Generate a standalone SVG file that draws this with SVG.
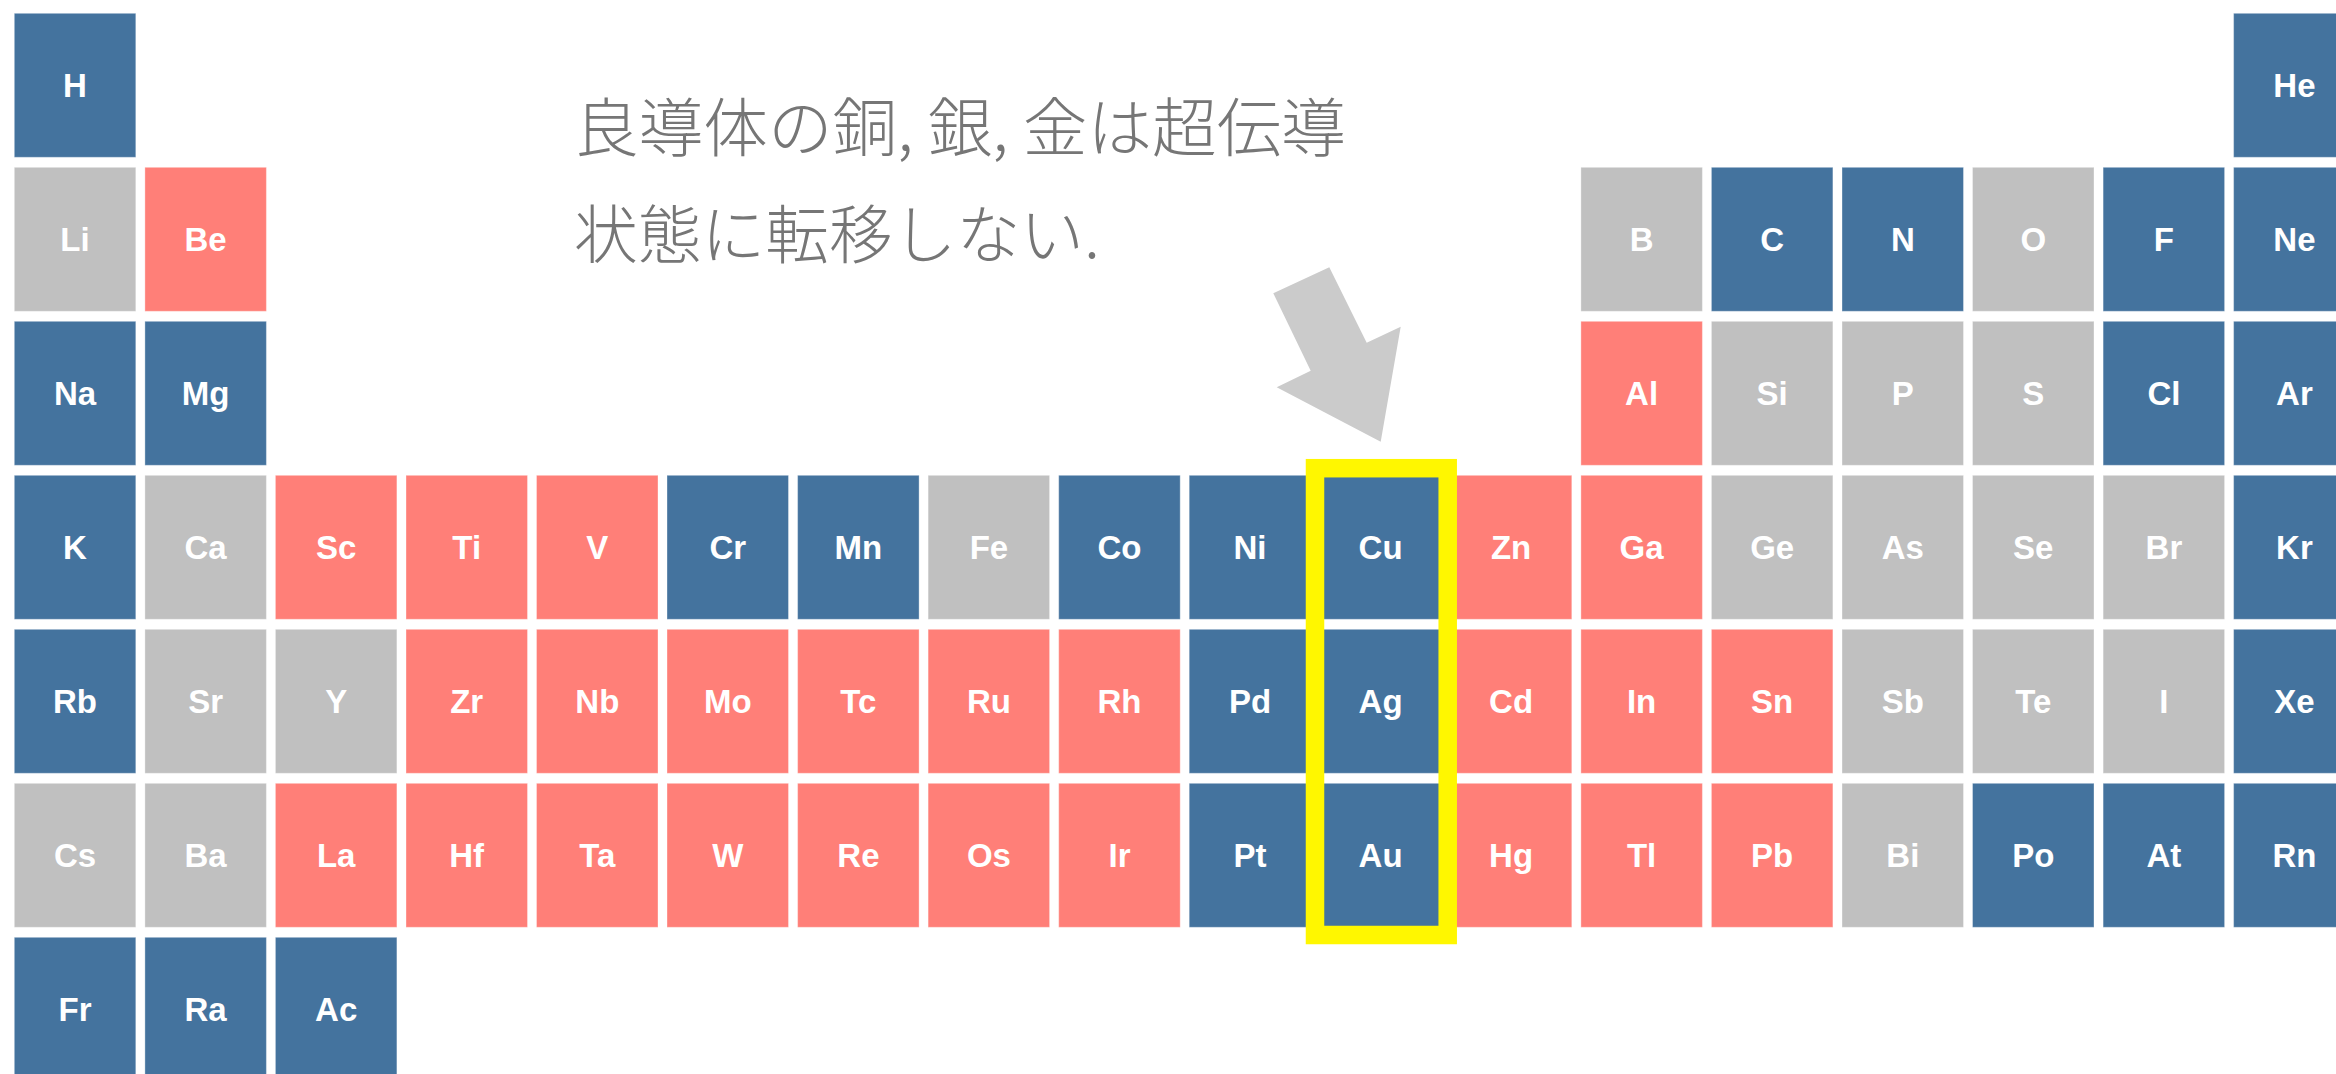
<svg xmlns="http://www.w3.org/2000/svg" width="2336" height="1074" viewBox="0 0 2336 1074">
<style>
rect.c{width:121.5px;height:144px;stroke:#ffffff;stroke-opacity:0.35;stroke-width:1}
.b{fill:#44739e}
.r{fill:#ff7f78}
.g{fill:#c0c0c0}
text.s{font-family:"Liberation Sans",Arial,sans-serif;font-weight:bold;font-size:33px;fill:#ffffff;text-anchor:middle}
text.j{font-family:"Noto Sans CJK JP","Noto Sans CJK SC",sans-serif;font-weight:300;font-size:64px;fill:#767676}
</style>
<rect width="2336" height="1074" fill="#ffffff"/>
<g id="nodes">
<g id="H"><rect class="c b" x="14.3" y="13.3" width="121.5" height="144"/><text class="s" x="75" y="96.8">H</text></g>
<g id="He"><rect class="c b" x="2233.6" y="13.3" width="121.5" height="144"/><text class="s" x="2294.4" y="96.8">He</text></g>

<g id="Li"><rect class="c g" x="14.3" y="167.3" width="121.5" height="144"/><text class="s" x="75" y="250.8">Li</text></g>
<g id="Be"><rect class="c r" x="144.9" y="167.3" width="121.5" height="144"/><text class="s" x="205.6" y="250.8">Be</text></g>
<g id="B"><rect class="c g" x="1580.9" y="167.3" width="121.5" height="144"/><text class="s" x="1641.6" y="250.8">B</text></g>
<g id="C"><rect class="c b" x="1711.4" y="167.3" width="121.5" height="144"/><text class="s" x="1772.2" y="250.8">C</text></g>
<g id="N"><rect class="c b" x="1842" y="167.3" width="121.5" height="144"/><text class="s" x="1902.8" y="250.8">N</text></g>
<g id="O"><rect class="c g" x="1972.5" y="167.3" width="121.5" height="144"/><text class="s" x="2033.3" y="250.8">O</text></g>
<g id="F"><rect class="c b" x="2103.1" y="167.3" width="121.5" height="144"/><text class="s" x="2163.9" y="250.8">F</text></g>
<g id="Ne"><rect class="c b" x="2233.6" y="167.3" width="121.5" height="144"/><text class="s" x="2294.4" y="250.8">Ne</text></g>

<g id="Na"><rect class="c b" x="14.3" y="321.3" width="121.5" height="144"/><text class="s" x="75" y="404.8">Na</text></g>
<g id="Mg"><rect class="c b" x="144.9" y="321.3" width="121.5" height="144"/><text class="s" x="205.6" y="404.8">Mg</text></g>
<g id="Al"><rect class="c r" x="1580.9" y="321.3" width="121.5" height="144"/><text class="s" x="1641.6" y="404.8">Al</text></g>
<g id="Si"><rect class="c g" x="1711.4" y="321.3" width="121.5" height="144"/><text class="s" x="1772.2" y="404.8">Si</text></g>
<g id="P"><rect class="c g" x="1842" y="321.3" width="121.5" height="144"/><text class="s" x="1902.8" y="404.8">P</text></g>
<g id="S"><rect class="c g" x="1972.5" y="321.3" width="121.5" height="144"/><text class="s" x="2033.3" y="404.8">S</text></g>
<g id="Cl"><rect class="c b" x="2103.1" y="321.3" width="121.5" height="144"/><text class="s" x="2163.9" y="404.8">Cl</text></g>
<g id="Ar"><rect class="c b" x="2233.6" y="321.3" width="121.5" height="144"/><text class="s" x="2294.4" y="404.8">Ar</text></g>

<g id="K"><rect class="c b" x="14.3" y="475.3" width="121.5" height="144"/><text class="s" x="75" y="558.8">K</text></g>
<g id="Ca"><rect class="c g" x="144.9" y="475.3" width="121.5" height="144"/><text class="s" x="205.6" y="558.8">Ca</text></g>
<g id="Sc"><rect class="c r" x="275.4" y="475.3" width="121.5" height="144"/><text class="s" x="336.2" y="558.8">Sc</text></g>
<g id="Ti"><rect class="c r" x="406" y="475.3" width="121.5" height="144"/><text class="s" x="466.7" y="558.8">Ti</text></g>
<g id="V"><rect class="c r" x="536.5" y="475.3" width="121.5" height="144"/><text class="s" x="597.3" y="558.8">V</text></g>
<g id="Cr"><rect class="c b" x="667" y="475.3" width="121.5" height="144"/><text class="s" x="727.8" y="558.8">Cr</text></g>
<g id="Mn"><rect class="c b" x="797.6" y="475.3" width="121.5" height="144"/><text class="s" x="858.4" y="558.8">Mn</text></g>
<g id="Fe"><rect class="c g" x="928.1" y="475.3" width="121.5" height="144"/><text class="s" x="988.9" y="558.8">Fe</text></g>
<g id="Co"><rect class="c b" x="1058.7" y="475.3" width="121.5" height="144"/><text class="s" x="1119.5" y="558.8">Co</text></g>
<g id="Ni"><rect class="c b" x="1189.2" y="475.3" width="121.5" height="144"/><text class="s" x="1250" y="558.8">Ni</text></g>
<g id="Cu"><rect class="c b" x="1319.8" y="475.3" width="121.5" height="144"/><text class="s" x="1380.6" y="558.8">Cu</text></g>
<g id="Zn"><rect class="c r" x="1450.3" y="475.3" width="121.5" height="144"/><text class="s" x="1511.1" y="558.8">Zn</text></g>
<g id="Ga"><rect class="c r" x="1580.9" y="475.3" width="121.5" height="144"/><text class="s" x="1641.6" y="558.8">Ga</text></g>
<g id="Ge"><rect class="c g" x="1711.4" y="475.3" width="121.5" height="144"/><text class="s" x="1772.2" y="558.8">Ge</text></g>
<g id="As"><rect class="c g" x="1842" y="475.3" width="121.5" height="144"/><text class="s" x="1902.8" y="558.8">As</text></g>
<g id="Se"><rect class="c g" x="1972.5" y="475.3" width="121.5" height="144"/><text class="s" x="2033.3" y="558.8">Se</text></g>
<g id="Br"><rect class="c g" x="2103.1" y="475.3" width="121.5" height="144"/><text class="s" x="2163.9" y="558.8">Br</text></g>
<g id="Kr"><rect class="c b" x="2233.6" y="475.3" width="121.5" height="144"/><text class="s" x="2294.4" y="558.8">Kr</text></g>

<g id="Rb"><rect class="c b" x="14.3" y="629.3" width="121.5" height="144"/><text class="s" x="75" y="712.8">Rb</text></g>
<g id="Sr"><rect class="c g" x="144.9" y="629.3" width="121.5" height="144"/><text class="s" x="205.6" y="712.8">Sr</text></g>
<g id="Y"><rect class="c g" x="275.4" y="629.3" width="121.5" height="144"/><text class="s" x="336.2" y="712.8">Y</text></g>
<g id="Zr"><rect class="c r" x="406" y="629.3" width="121.5" height="144"/><text class="s" x="466.7" y="712.8">Zr</text></g>
<g id="Nb"><rect class="c r" x="536.5" y="629.3" width="121.5" height="144"/><text class="s" x="597.3" y="712.8">Nb</text></g>
<g id="Mo"><rect class="c r" x="667" y="629.3" width="121.5" height="144"/><text class="s" x="727.8" y="712.8">Mo</text></g>
<g id="Tc"><rect class="c r" x="797.6" y="629.3" width="121.5" height="144"/><text class="s" x="858.4" y="712.8">Tc</text></g>
<g id="Ru"><rect class="c r" x="928.1" y="629.3" width="121.5" height="144"/><text class="s" x="988.9" y="712.8">Ru</text></g>
<g id="Rh"><rect class="c r" x="1058.7" y="629.3" width="121.5" height="144"/><text class="s" x="1119.5" y="712.8">Rh</text></g>
<g id="Pd"><rect class="c b" x="1189.2" y="629.3" width="121.5" height="144"/><text class="s" x="1250" y="712.8">Pd</text></g>
<g id="Ag"><rect class="c b" x="1319.8" y="629.3" width="121.5" height="144"/><text class="s" x="1380.6" y="712.8">Ag</text></g>
<g id="Cd"><rect class="c r" x="1450.3" y="629.3" width="121.5" height="144"/><text class="s" x="1511.1" y="712.8">Cd</text></g>
<g id="In"><rect class="c r" x="1580.9" y="629.3" width="121.5" height="144"/><text class="s" x="1641.6" y="712.8">In</text></g>
<g id="Sn"><rect class="c r" x="1711.4" y="629.3" width="121.5" height="144"/><text class="s" x="1772.2" y="712.8">Sn</text></g>
<g id="Sb"><rect class="c g" x="1842" y="629.3" width="121.5" height="144"/><text class="s" x="1902.8" y="712.8">Sb</text></g>
<g id="Te"><rect class="c g" x="1972.5" y="629.3" width="121.5" height="144"/><text class="s" x="2033.3" y="712.8">Te</text></g>
<g id="I"><rect class="c g" x="2103.1" y="629.3" width="121.5" height="144"/><text class="s" x="2163.9" y="712.8">I</text></g>
<g id="Xe"><rect class="c b" x="2233.6" y="629.3" width="121.5" height="144"/><text class="s" x="2294.4" y="712.8">Xe</text></g>

<g id="Cs"><rect class="c g" x="14.3" y="783.3" width="121.5" height="144"/><text class="s" x="75" y="866.8">Cs</text></g>
<g id="Ba"><rect class="c g" x="144.9" y="783.3" width="121.5" height="144"/><text class="s" x="205.6" y="866.8">Ba</text></g>
<g id="La"><rect class="c r" x="275.4" y="783.3" width="121.5" height="144"/><text class="s" x="336.2" y="866.8">La</text></g>
<g id="Hf"><rect class="c r" x="406" y="783.3" width="121.5" height="144"/><text class="s" x="466.7" y="866.8">Hf</text></g>
<g id="Ta"><rect class="c r" x="536.5" y="783.3" width="121.5" height="144"/><text class="s" x="597.3" y="866.8">Ta</text></g>
<g id="W"><rect class="c r" x="667" y="783.3" width="121.5" height="144"/><text class="s" x="727.8" y="866.8">W</text></g>
<g id="Re"><rect class="c r" x="797.6" y="783.3" width="121.5" height="144"/><text class="s" x="858.4" y="866.8">Re</text></g>
<g id="Os"><rect class="c r" x="928.1" y="783.3" width="121.5" height="144"/><text class="s" x="988.9" y="866.8">Os</text></g>
<g id="Ir"><rect class="c r" x="1058.7" y="783.3" width="121.5" height="144"/><text class="s" x="1119.5" y="866.8">Ir</text></g>
<g id="Pt"><rect class="c b" x="1189.2" y="783.3" width="121.5" height="144"/><text class="s" x="1250" y="866.8">Pt</text></g>
<g id="Au"><rect class="c b" x="1319.8" y="783.3" width="121.5" height="144"/><text class="s" x="1380.6" y="866.8">Au</text></g>
<g id="Hg"><rect class="c r" x="1450.3" y="783.3" width="121.5" height="144"/><text class="s" x="1511.1" y="866.8">Hg</text></g>
<g id="Tl"><rect class="c r" x="1580.9" y="783.3" width="121.5" height="144"/><text class="s" x="1641.6" y="866.8">Tl</text></g>
<g id="Pb"><rect class="c r" x="1711.4" y="783.3" width="121.5" height="144"/><text class="s" x="1772.2" y="866.8">Pb</text></g>
<g id="Bi"><rect class="c g" x="1842" y="783.3" width="121.5" height="144"/><text class="s" x="1902.8" y="866.8">Bi</text></g>
<g id="Po"><rect class="c b" x="1972.5" y="783.3" width="121.5" height="144"/><text class="s" x="2033.3" y="866.8">Po</text></g>
<g id="At"><rect class="c b" x="2103.1" y="783.3" width="121.5" height="144"/><text class="s" x="2163.9" y="866.8">At</text></g>
<g id="Rn"><rect class="c b" x="2233.6" y="783.3" width="121.5" height="144"/><text class="s" x="2294.4" y="866.8">Rn</text></g>

<g id="Fr"><rect class="c b" x="14.3" y="937.3" width="121.5" height="144"/><text class="s" x="75" y="1020.8">Fr</text></g>
<g id="Ra"><rect class="c b" x="144.9" y="937.3" width="121.5" height="144"/><text class="s" x="205.6" y="1020.8">Ra</text></g>
<g id="Ac"><rect class="c b" x="275.4" y="937.3" width="121.5" height="144"/><text class="s" x="336.2" y="1020.8">Ac</text></g>
</g>
<g id="highlight">
<rect x="1315" y="468.2" width="132.7" height="466.8" fill="none" stroke="#fff700" stroke-width="18.5"/>
</g>
<g id="connectors">
<polygon points="1273.3,293.3 1329.3,267.3 1366.7,342.7 1400.7,326.7 1380.7,441.7 1276.7,387.3 1310.7,370.7" fill="#cbcbcb"/>
</g>
<g id="caption">
<text class="j" x="574" y="151" textLength="772" lengthAdjust="spacingAndGlyphs">良導体の銅, 銀, 金は超伝導</text>
<text class="j" x="574" y="258" textLength="526" lengthAdjust="spacingAndGlyphs">状態に転移しない.</text>
</g>
</svg>
